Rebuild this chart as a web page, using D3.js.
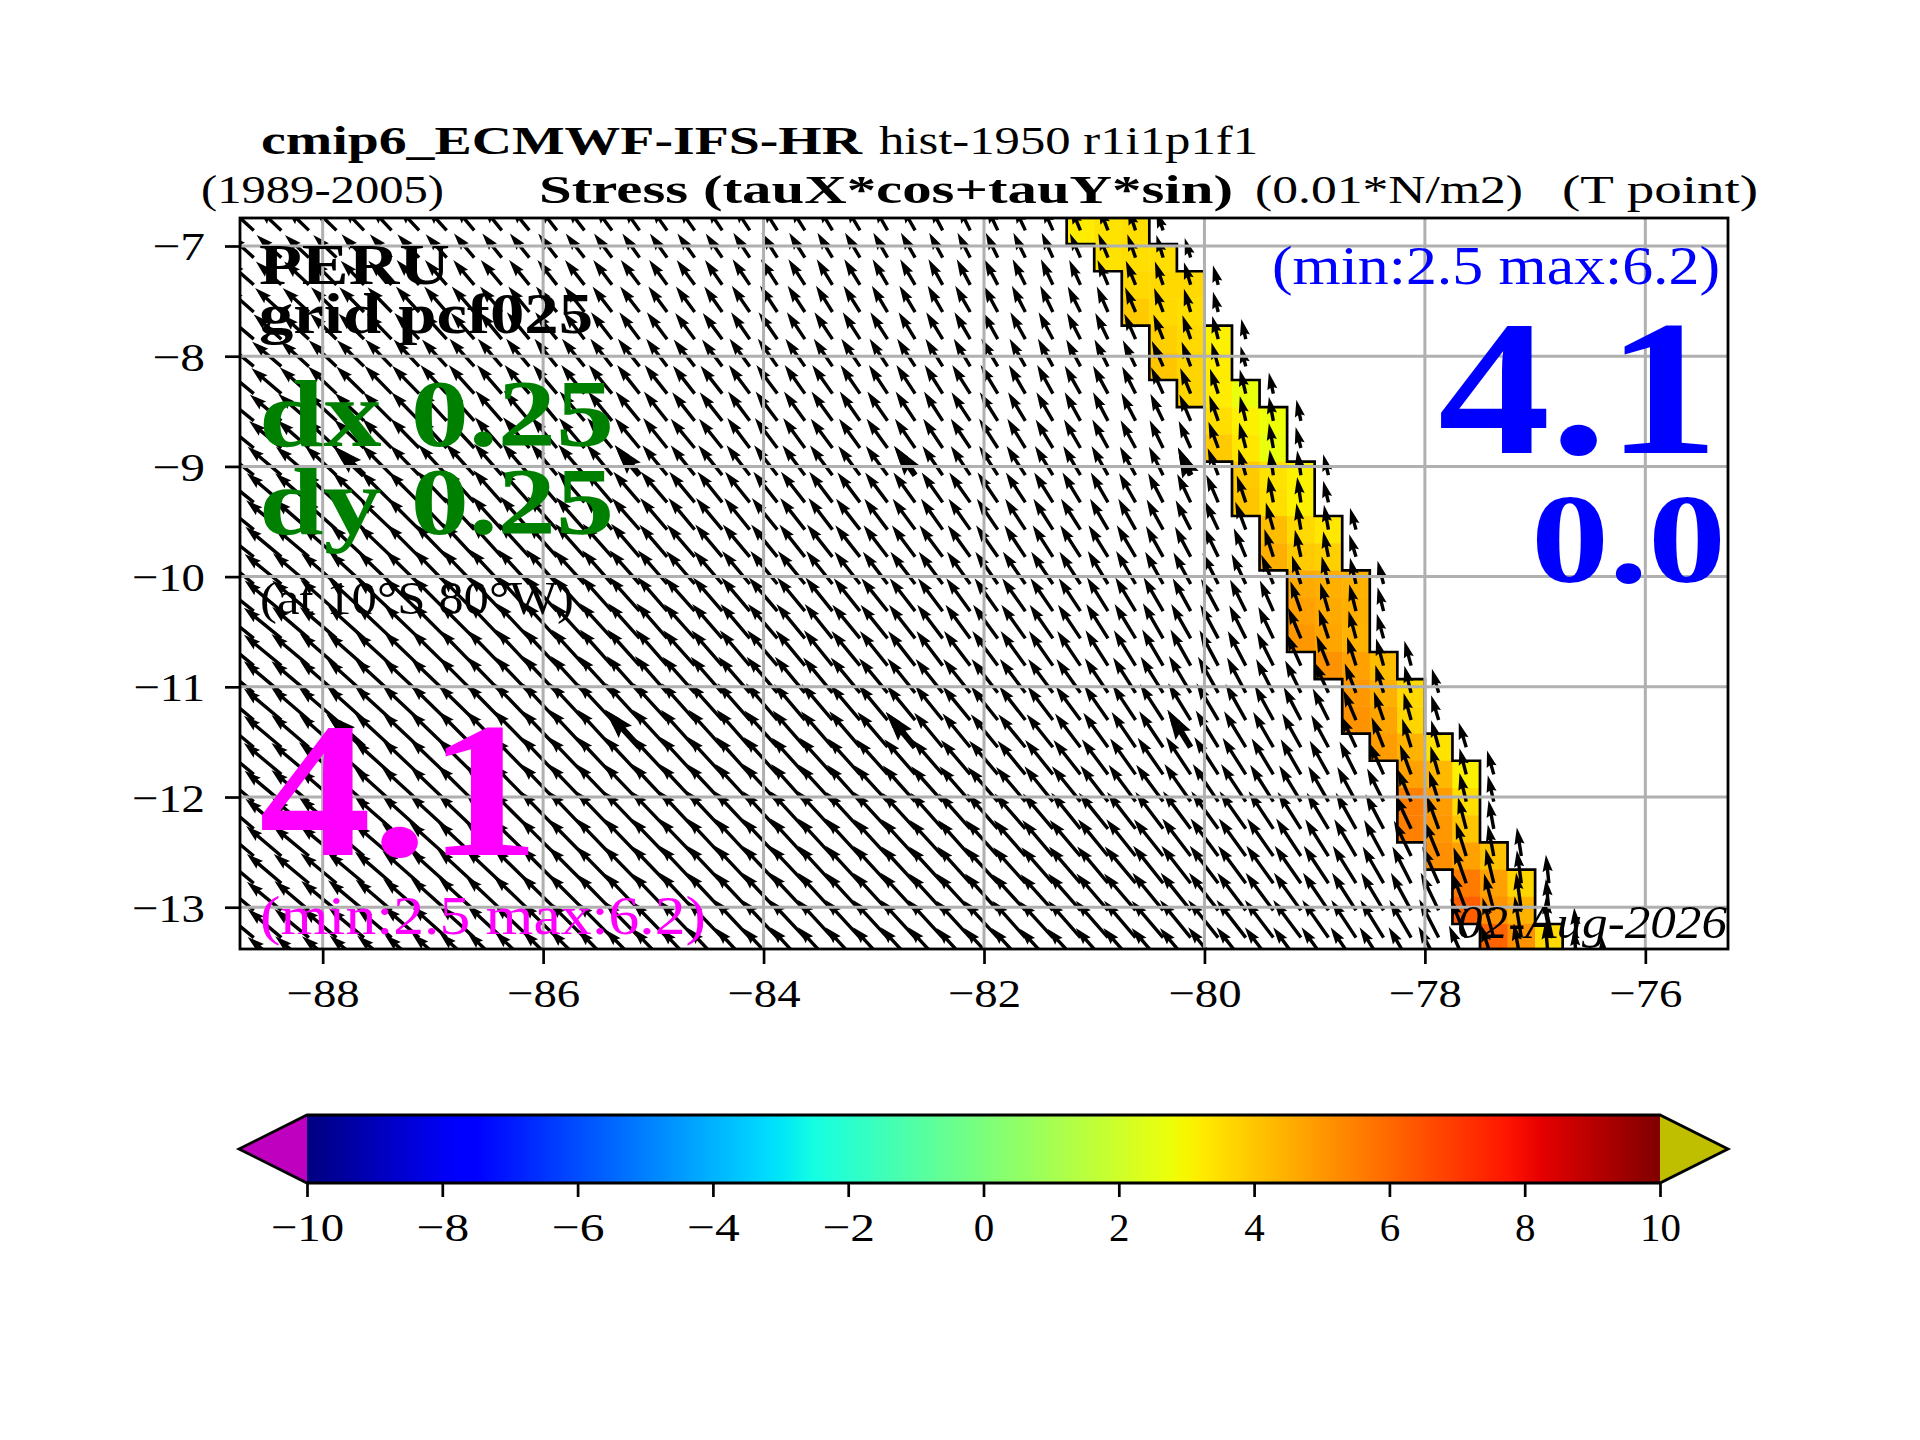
<!DOCTYPE html>
<html><head><meta charset="utf-8">
<script src="https://cdn.jsdelivr.net/npm/d3@7"></script>
<style>html,body{margin:0;padding:0;background:#fff}svg{display:block}text{font-family:"Liberation Serif",serif}</style>
</head><body><div id="chart"></div>
<script>
// ---- data ----
const xTicks=[-88,-86,-84,-82,-80,-78,-76];
const yTicks=[-13,-12,-11,-10,-9,-8,-7];
const cbTicks=[-10,-8,-6,-4,-2,0,2,4,6,8,10];
// latitude of the row edges of the model grid
const latEdges=[-6.735,-6.982,-7.229,-7.476,-7.722,-7.969,-8.216,-8.463,-8.710,-8.956,-9.203,-9.450,-9.697,-9.944,-10.190,-10.437,-10.684,-10.931,-11.178,-11.425,-11.671,-11.918,-12.165,-12.412,-12.659,-12.905,-13.152,-13.399,-13.646];
// western longitude of the coloured strip, per row
const stripLon=[-81.25,-81,-80.75,-80.75,-80.5,-80.5,-80.25,-80,-80,-79.75,-79.75,-79.5,-79.5,-79.25,-79.25,-79.25,-79,-78.75,-78.75,-78.5,-78.25,-78.25,-78.25,-78,-77.75,-77.75,-77.5];
// stress values of the three strip cells, per row
const stripVal=[[3.2,3.4,3.5],[3.4,3.5,3.5],[3.6,3.6,3.6],[3.9,3.6,3.5],[3.8,3.6,3.1],[4.0,3.7,3.2],[3.7,3.2,2.7],[3.5,3.1,2.8],[3.9,3.3,2.7],[3.9,3.4,3.1],[4.0,3.5,3.1],[4.2,3.6,3.3],[4.5,3.9,3.8],[4.6,4.5,4.4],[4.8,4.6,4.5],[5.0,4.7,4.4],[5.1,4.8,4.2],[5.0,4.5,3.6],[5.1,4.7,3.7],[4.9,4.4,3.4],[4.8,4.3,3.1],[5.5,4.9,3.5],[5.5,5.0,4.0],[5.2,4.8,4.1],[5.6,4.8,3.7],[6.2,5.1,4.4],[6.1,5.1,3.6]];
// arrow components (0.001 N/m2), per row from north to south, per column from west to east
const tauU=[
[-32,-31,-30,-30,-29,-28,-28,-27,-26,-25,-25,-24,-24,-23,-22,-22,-22,-21,-21,-20,-20,-19,-19,-18,-18,-17,-16,-15,-15,-14,-13,-12,-10,-9],
[-33,-33,-32,-31,-30,-29,-29,-28,-27,-26,-26,-25,-25,-24,-23,-23,-23,-22,-22,-21,-21,-20,-20,-19,-19,-18,-17,-16,-16,-15,-14,-13,-11,-9,-8],
[-35,-34,-33,-32,-31,-31,-30,-29,-28,-28,-27,-26,-26,-25,-25,-24,-24,-23,-23,-22,-22,-21,-21,-20,-20,-19,-18,-18,-17,-16,-15,-14,-13,-11,-9,-7],
[-36,-35,-35,-34,-33,-32,-31,-30,-30,-29,-28,-28,-27,-26,-26,-25,-25,-24,-24,-23,-23,-22,-22,-21,-21,-20,-20,-19,-18,-17,-17,-15,-14,-12,-9,-7],
[-38,-37,-36,-35,-34,-33,-33,-32,-31,-30,-30,-29,-28,-28,-27,-27,-26,-26,-25,-25,-24,-24,-23,-23,-22,-22,-21,-20,-20,-19,-18,-17,-15,-13,-11,-8,-6],
[-40,-39,-38,-37,-36,-35,-34,-33,-33,-32,-31,-30,-30,-29,-29,-28,-28,-27,-27,-26,-26,-25,-25,-24,-24,-23,-22,-22,-21,-20,-19,-18,-17,-15,-12,-9,-7],
[-41,-40,-39,-38,-37,-36,-36,-35,-34,-33,-33,-32,-31,-31,-30,-30,-29,-29,-28,-28,-27,-27,-26,-25,-25,-24,-24,-23,-22,-21,-21,-20,-18,-16,-14,-11,-8,-6],
[-43,-42,-41,-40,-39,-38,-37,-36,-35,-35,-34,-33,-33,-32,-32,-31,-30,-30,-29,-29,-28,-28,-27,-27,-26,-25,-25,-24,-23,-22,-21,-20,-19,-17,-15,-12,-8,-6,-6],
[-44,-43,-42,-41,-40,-39,-38,-37,-37,-36,-35,-34,-34,-33,-33,-32,-32,-31,-30,-30,-29,-29,-28,-28,-27,-26,-26,-25,-24,-23,-22,-21,-20,-18,-16,-13,-9,-6,-7],
[-46,-45,-44,-42,-41,-40,-39,-38,-38,-37,-36,-35,-35,-34,-33,-33,-32,-32,-31,-31,-30,-30,-29,-29,-28,-27,-26,-25,-25,-24,-23,-22,-21,-19,-17,-14,-10,-5,-5,-7],
[-47,-46,-45,-44,-42,-41,-41,-40,-39,-38,-38,-37,-36,-36,-35,-35,-34,-33,-33,-32,-32,-31,-30,-30,-29,-28,-28,-27,-26,-25,-24,-23,-22,-20,-18,-16,-12,-7,-5,-7],
[-48,-47,-46,-45,-44,-43,-42,-41,-41,-40,-39,-39,-38,-37,-37,-36,-35,-35,-34,-34,-33,-32,-32,-31,-30,-29,-29,-28,-27,-26,-26,-24,-23,-22,-20,-18,-14,-10,-6,-6,-8],
[-49,-48,-47,-46,-45,-44,-43,-43,-42,-41,-41,-40,-39,-39,-38,-37,-37,-36,-36,-35,-34,-34,-33,-32,-31,-31,-30,-29,-28,-27,-27,-26,-25,-23,-21,-19,-16,-12,-8,-7,-9],
[-49,-49,-48,-47,-46,-45,-45,-44,-43,-43,-42,-41,-41,-40,-40,-39,-38,-38,-37,-36,-36,-35,-34,-33,-33,-32,-31,-30,-30,-29,-28,-27,-26,-24,-23,-21,-19,-16,-12,-9,-8,-8],
[-50,-49,-49,-48,-47,-46,-46,-45,-45,-44,-43,-43,-42,-41,-41,-40,-40,-39,-38,-38,-37,-36,-35,-35,-34,-33,-32,-31,-31,-30,-29,-28,-27,-26,-24,-23,-21,-18,-14,-11,-9,-8],
[-50,-50,-49,-49,-48,-47,-47,-46,-46,-45,-44,-44,-43,-43,-42,-41,-41,-40,-39,-39,-38,-37,-37,-36,-35,-34,-33,-33,-32,-31,-30,-29,-28,-27,-26,-24,-22,-20,-17,-13,-10,-9],
[-50,-50,-50,-49,-49,-48,-47,-47,-46,-46,-45,-45,-44,-43,-43,-42,-42,-41,-40,-40,-39,-38,-38,-37,-36,-35,-35,-34,-33,-32,-31,-30,-29,-28,-27,-25,-24,-22,-19,-16,-12,-10,-9],
[-50,-50,-50,-49,-49,-49,-48,-48,-47,-47,-46,-46,-45,-45,-44,-43,-43,-42,-42,-41,-40,-39,-39,-38,-37,-36,-36,-35,-34,-33,-32,-31,-30,-30,-29,-27,-25,-23,-21,-19,-15,-11,-9,-9],
[-50,-50,-50,-50,-49,-49,-49,-48,-48,-47,-47,-46,-46,-46,-45,-45,-44,-44,-43,-42,-41,-41,-40,-39,-38,-37,-37,-36,-35,-34,-33,-32,-31,-31,-30,-29,-27,-25,-23,-21,-17,-13,-10,-10],
[-50,-50,-50,-50,-50,-49,-49,-49,-48,-48,-48,-47,-47,-46,-46,-46,-45,-45,-44,-44,-43,-42,-41,-40,-39,-38,-37,-36,-36,-35,-34,-33,-32,-32,-31,-30,-29,-27,-25,-23,-20,-16,-12,-10,-10],
[-49,-50,-50,-50,-50,-50,-49,-49,-49,-49,-48,-48,-48,-47,-47,-47,-46,-46,-45,-45,-44,-44,-43,-42,-41,-40,-39,-38,-37,-37,-36,-35,-34,-34,-33,-32,-31,-29,-27,-25,-22,-19,-15,-11,-9,-9],
[-48,-49,-50,-50,-50,-50,-50,-49,-49,-49,-49,-48,-48,-48,-48,-47,-47,-47,-46,-46,-45,-45,-44,-44,-43,-42,-41,-40,-39,-38,-38,-37,-36,-36,-35,-34,-33,-31,-29,-27,-25,-22,-18,-13,-9,-8],
[-47,-48,-49,-50,-50,-50,-50,-50,-49,-49,-49,-49,-48,-48,-48,-48,-47,-47,-47,-46,-46,-46,-45,-45,-44,-43,-42,-41,-41,-40,-39,-39,-38,-37,-37,-36,-35,-33,-31,-29,-27,-24,-21,-16,-11,-7],
[-46,-47,-48,-49,-49,-50,-50,-50,-49,-49,-49,-49,-48,-48,-48,-48,-48,-47,-47,-47,-46,-46,-46,-45,-45,-44,-43,-43,-42,-41,-41,-40,-39,-39,-38,-37,-36,-35,-33,-31,-29,-26,-23,-19,-14,-8,-6],
[-46,-46,-47,-48,-49,-49,-49,-49,-49,-49,-48,-48,-48,-48,-48,-48,-47,-47,-47,-47,-47,-46,-46,-46,-45,-45,-44,-44,-43,-42,-42,-41,-41,-40,-39,-38,-37,-36,-35,-33,-31,-28,-25,-22,-17,-11,-6,-4],
[-45,-46,-46,-47,-48,-48,-48,-48,-48,-48,-48,-48,-48,-47,-47,-47,-47,-47,-47,-47,-47,-46,-46,-46,-46,-45,-45,-44,-44,-43,-43,-42,-42,-41,-40,-39,-38,-37,-36,-34,-32,-30,-27,-24,-19,-13,-7,-4],
[-45,-45,-46,-46,-47,-47,-47,-47,-47,-47,-47,-47,-47,-47,-47,-47,-47,-47,-47,-47,-47,-46,-46,-46,-46,-46,-45,-45,-44,-44,-43,-43,-42,-42,-41,-40,-39,-38,-37,-35,-33,-31,-29,-26,-21,-15,-9,-4,-3],
[-45,-45,-45,-46,-46,-46,-46,-46,-46,-46,-46,-46,-46,-46,-46,-46,-46,-46,-46,-46,-46,-46,-46,-46,-46,-46,-45,-45,-45,-44,-44,-43,-43,-42,-41,-40,-39,-38,-37,-36,-34,-32,-30,-27,-23,-17,-10,-5,-3,-3]];
const tauV=[
[29,29,29,29,30,30,30,30,31,31,31,31,31,31,31,31,31,31,32,32,32,32,32,32,32,32,32,32,32,32,31,31,30,26],
[30,30,30,30,31,31,31,31,32,32,32,32,32,32,32,32,32,32,33,33,33,33,33,33,33,33,33,33,33,33,32,32,31,30,26],
[31,31,31,32,32,32,33,33,33,33,33,33,33,33,33,33,33,33,34,34,34,34,34,34,34,34,34,34,34,34,33,33,32,31,30,26],
[32,32,32,33,33,33,34,34,34,34,34,34,34,34,34,34,34,34,35,35,35,35,35,35,35,35,35,35,35,35,34,34,33,32,31,27],
[32,33,33,34,34,34,35,35,35,36,36,36,36,36,36,36,35,35,36,36,36,36,36,36,36,36,36,36,36,36,35,35,34,33,32,31,27],
[33,33,34,35,35,36,36,36,37,37,37,37,37,37,37,37,36,36,37,37,37,37,37,37,37,37,37,37,37,37,36,36,35,34,33,32,27],
[34,34,35,36,36,37,37,38,38,38,38,38,38,38,38,38,37,37,38,38,38,38,38,38,38,38,38,38,38,38,37,37,36,35,34,33,32,28],
[35,35,36,37,37,38,38,39,39,40,40,40,39,39,39,39,38,38,39,39,39,39,39,39,39,39,38,38,38,38,38,38,37,36,35,34,33,32,28],
[36,36,37,38,38,39,39,40,40,41,41,41,40,40,40,40,39,39,40,40,40,39,39,39,39,39,39,39,39,38,38,38,37,37,36,35,34,33,28],
[37,38,38,39,39,40,40,41,42,42,42,42,41,41,40,40,40,40,40,40,40,40,39,39,39,39,39,39,39,39,39,39,38,38,37,36,35,34,33,28],
[38,39,39,40,40,41,41,42,43,43,43,43,42,42,41,41,41,41,41,41,41,41,40,40,40,40,40,40,40,40,40,40,39,39,38,37,36,35,34,29],
[39,39,40,40,41,41,42,43,44,44,44,44,43,43,42,42,42,42,42,42,42,42,41,41,41,41,41,41,41,41,41,41,41,40,39,38,37,36,35,33,29],
[39,40,40,41,42,42,43,44,45,45,45,45,44,44,44,43,43,43,43,43,43,43,42,42,42,42,42,42,42,42,42,42,42,41,40,39,38,37,36,34,30],
[40,40,41,41,42,43,44,45,45,46,46,46,45,45,45,45,44,44,44,44,44,44,43,43,43,43,43,43,43,43,43,44,44,43,42,41,40,39,38,37,35,31],
[40,41,41,42,43,43,44,45,46,46,47,47,46,46,46,46,45,45,45,45,45,45,44,44,44,44,44,44,44,44,44,45,45,45,44,43,42,41,40,38,36,32],
[41,41,42,42,43,44,45,46,46,47,47,48,47,47,47,47,46,46,46,46,46,46,45,45,45,45,45,45,45,45,45,46,46,47,46,45,44,42,41,39,37,33],
[41,41,42,43,43,44,45,46,47,47,48,48,48,48,48,48,47,47,47,47,47,47,46,46,46,46,46,46,46,46,46,47,47,48,48,47,46,44,42,40,38,36,33],
[41,42,42,43,44,45,45,46,47,48,48,49,49,49,49,49,48,48,48,48,48,47,47,46,46,45,45,45,45,45,45,46,47,48,49,48,47,45,43,41,39,37,36,32],
[42,42,43,43,44,45,46,47,47,48,49,49,49,49,49,49,49,49,49,49,48,48,47,47,46,46,45,45,45,45,45,46,47,48,49,49,48,46,44,42,40,38,36,33],
[42,42,43,44,44,45,46,47,48,48,49,49,50,50,50,50,50,50,50,49,49,48,48,47,47,46,45,44,44,44,45,46,47,48,50,49,48,47,45,43,42,40,38,36,33],
[41,42,42,43,44,45,46,47,48,49,49,50,50,50,50,50,50,50,50,50,49,49,48,47,47,46,46,45,45,46,46,47,48,49,50,50,49,48,47,45,44,42,40,38,35,32],
[40,41,42,43,44,45,46,47,48,49,50,50,50,50,50,50,50,50,50,50,50,49,49,48,48,47,47,46,46,47,47,48,49,49,50,50,50,49,48,47,46,44,43,41,38,35],
[40,40,41,42,43,44,45,46,47,48,49,50,50,50,50,50,50,50,50,50,50,50,49,49,48,48,47,47,47,47,48,48,49,49,50,50,50,50,49,48,48,46,45,44,42,38],
[39,40,40,41,42,43,44,45,46,47,48,49,49,50,50,50,50,50,50,50,50,50,50,49,49,48,48,48,48,48,48,49,49,49,50,50,50,50,50,49,49,48,47,46,45,42,38],
[38,39,39,40,41,42,43,44,45,46,47,48,48,49,49,50,50,50,50,50,50,50,50,50,49,49,49,48,48,48,49,49,49,50,50,50,50,50,50,50,50,49,49,49,48,46,44,38],
[38,38,39,39,40,41,42,43,44,45,46,47,48,48,49,49,50,50,50,50,50,50,50,50,50,49,49,49,48,48,49,49,49,50,50,50,50,50,50,50,50,50,50,50,50,49,50,42],
[37,38,38,39,39,40,41,42,43,44,45,46,47,47,48,48,49,49,50,50,50,50,50,50,50,50,49,49,49,48,49,49,49,49,50,50,50,50,50,50,50,50,50,51,52,53,55,54,40],
[37,37,38,38,39,39,40,41,42,43,44,45,46,47,47,48,48,49,49,49,50,50,50,50,50,50,49,49,49,48,48,49,49,49,49,50,50,50,50,50,50,50,50,51,52,53,55,57,48,38]];
// arrows drawn again with a heavy shaft and head: [row, column]
const heavyArrows=[[9,4],[9,14],[9,24],[9,34],[19,4],[19,14],[19,24],[19,34]];
const cellSize=0.25, firstLon=-88.75;

// ---- layout ----
const W=1920,H=1440;
const svg=d3.select("#chart").append("svg").attr("width",W).attr("height",H).attr("viewBox",`0 0 ${W} ${H}`);
const axL=240,axR=1728,axT=218,axB=949;
const x=d3.scaleLinear().domain([-88.75,-75.25]).range([axL,axR]);
const y=d3.scaleLinear().domain([-13.379,-6.746]).range([axB,axT]);
const arrowPx=d3.scaleLinear().domain([0,100]).range([0,75]);

// matplotlib "jet"
const jr=d3.scaleLinear().domain([0,.35,.66,.89,1]).range([0,0,1,1,.5]).clamp(true);
const jg=d3.scaleLinear().domain([0,.125,.375,.64,.91,1]).range([0,0,1,1,0,0]).clamp(true);
const jb=d3.scaleLinear().domain([0,.11,.34,.65,1]).range([.5,1,1,0,0]).clamp(true);
const norm=d3.scaleLinear().domain([-10,10]).range([0,1]);
const jet=v=>{const t=norm(v);return d3.rgb(jr(t)*255,jg(t)*255,jb(t)*255).formatHex();};

const defs=svg.append("defs");
defs.append("clipPath").attr("id","ax").append("rect")
  .attr("x",axL).attr("y",axT).attr("width",axR-axL).attr("height",axB-axT);
const plot=svg.append("g").attr("clip-path","url(#ax)");

// coloured strip
const cells=[];
stripVal.forEach((vals,r)=>vals.forEach((v,i)=>{
  const lon=stripLon[r]+i*cellSize;
  cells.push({r,lon,v});
}));
plot.append("g").selectAll("rect").data(cells).join("rect")
  .attr("x",d=>x(d.lon)).attr("width",d=>x(d.lon+cellSize)-x(d.lon)+.4)
  .attr("y",d=>y(latEdges[d.r])).attr("height",d=>y(latEdges[d.r+1])-y(latEdges[d.r])+.4)
  .attr("fill",d=>jet(d.v));
// outline of the strip
const has=(r,lon)=>r>=0&&r<stripLon.length&&lon>=stripLon[r]-1e-6&&lon<stripLon[r]+3*cellSize-1e-6;
const seg=[];
cells.forEach(d=>{
  const x0=x(d.lon),x1=x(d.lon+cellSize),y0=y(latEdges[d.r]),y1=y(latEdges[d.r+1]);
  if(!has(d.r,d.lon-cellSize))seg.push([x0,y0,x0,y1]);
  if(!has(d.r,d.lon+cellSize))seg.push([x1,y0,x1,y1]);
  if(!has(d.r-1,d.lon))seg.push([x0,y0,x1,y0]);
  if(!has(d.r+1,d.lon))seg.push([x0,y1,x1,y1]);
});
plot.append("path").attr("fill","none").attr("stroke","#000").attr("stroke-width",2.7).attr("stroke-linecap","square")
  .attr("d",seg.map(s=>`M${s[0]},${s[1]}L${s[2]},${s[3]}`).join(""));

// quiver
function arrowPath(x0,y0,dx,dy,w){
  const L=Math.hypot(dx,dy);if(!L)return "";
  const ux=dx/L,uy=dy/L,nx=-uy,ny=ux;
  const pts=[[0,w/2],[L-4.5*w,w/2],[L-5*w,1.5*w],[L,0],[L-5*w,-1.5*w],[L-4.5*w,-w/2],[0,-w/2]];
  return "M"+pts.map(p=>[(x0+ux*p[0]+nx*p[1]).toFixed(2),(y0+uy*p[0]+ny*p[1]).toFixed(2)].join(",")).join("L")+"Z";
}
const arrows=[];
tauU.forEach((row,r)=>row.forEach((u,c)=>{
  arrows.push({r,c,u,v:tauV[r][c]});
}));
const cx=d=>x(firstLon+(d.c+.5)*cellSize);
const cy=d=>y((latEdges[d.r]+latEdges[d.r+1])/2);
plot.append("g").selectAll("path").data(arrows.filter(d=>d.v!==undefined)).join("path")
  .attr("d",d=>arrowPath(cx(d),cy(d),arrowPx(d.u),-arrowPx(d.v),3.4)).attr("fill","#000");
plot.append("g").selectAll("path").data(heavyArrows.map(([r,c])=>({r,c,u:tauU[r][c],v:tauV[r][c]}))).join("path")
  .attr("d",d=>arrowPath(cx(d),cy(d),arrowPx(d.u),-arrowPx(d.v),6)).attr("fill","#000");

// grid
const grid=plot.append("g").attr("stroke","#b0b0b0").attr("stroke-width",3);
grid.selectAll(".gx").data(xTicks).join("line").attr("x1",d=>x(d)).attr("x2",d=>x(d)).attr("y1",axT).attr("y2",axB);
grid.selectAll(".gy").data(yTicks).join("line").attr("y1",d=>y(d)).attr("y2",d=>y(d)).attr("x1",axL).attr("x2",axR);

// axes
function styleAxis(g){
  g.select(".domain").remove();
  g.selectAll(".tick line").attr("stroke","#000").attr("stroke-width",2.7);
  g.selectAll("text").attr("font-size",41).attr("fill","#000").attr("font-family","Liberation Serif")
    .each(function(){
      // the long minus of the reference's math font
      if(this.textContent.startsWith("\u2212")){
        d3.select(this).attr("textLength",this.getComputedTextLength()+9).attr("lengthAdjust","spacingAndGlyphs");
      }
    });
}
const gx=svg.append("g").attr("transform",`translate(0,${axB})`)
  .call(d3.axisBottom(x).tickValues(xTicks).tickSize(15).tickFormat(d3.format("d"))).call(styleAxis);
gx.selectAll("text").attr("y",58).attr("dy",0);
const gy=svg.append("g").attr("transform",`translate(${axL},0)`)
  .call(d3.axisLeft(y).tickValues(yTicks).tickSize(15).tickFormat(d3.format("d"))).call(styleAxis);
gy.selectAll("text").attr("x",-35).attr("dy",14);
svg.append("rect").attr("x",axL).attr("y",axT).attr("width",axR-axL).attr("height",axB-axT)
  .attr("fill","none").attr("stroke","#000").attr("stroke-width",2.8);

// colorbar
const cb=d3.scaleLinear().domain([-10,10]).range([307,1660]);
const cbT=1115,cbB=1183,cbTipL=239,cbTipR=1728;
const grad=defs.append("linearGradient").attr("id","jet").attr("gradientUnits","userSpaceOnUse")
  .attr("x1",cb(-10)).attr("x2",cb(10)).attr("y1",0).attr("y2",0);
grad.selectAll("stop").data(d3.range(-10,10.01,0.25)).join("stop")
  .attr("offset",d=>norm(d)).attr("stop-color",d=>jet(d));
svg.append("rect").attr("x",cb(-10)).attr("width",cb(10)-cb(-10)).attr("y",cbT).attr("height",cbB-cbT).attr("fill","url(#jet)");
const cbMid=(cbT+cbB)/2;
svg.append("path").attr("d",`M${cb(-10)},${cbT}L${cbTipL},${cbMid}L${cb(-10)},${cbB}Z`).attr("fill","#bf00bf");
svg.append("path").attr("d",`M${cb(10)},${cbT}L${cbTipR},${cbMid}L${cb(10)},${cbB}Z`).attr("fill","#bfbf00");
svg.append("path").attr("fill","none").attr("stroke","#000").attr("stroke-width",2.8)
  .attr("d",`M${cb(-10)},${cbT}L${cb(10)},${cbT}L${cbTipR},${cbMid}L${cb(10)},${cbB}L${cb(-10)},${cbB}L${cbTipL},${cbMid}Z`);
const gc=svg.append("g").attr("transform",`translate(0,${cbB})`)
  .call(d3.axisBottom(cb).tickValues(cbTicks).tickSize(14).tickFormat(d3.format("d"))).call(styleAxis);
gc.selectAll("text").attr("y",58).attr("dy",0);

// texts: [string, left, width, baseline, size, weight, style, colour]
const labels=[
 ["cmip6_ECMWF-IFS-HR",261,601,154,41,"bold","normal","#000"],
 ["hist-1950 r1i1p1f1",879,379,154,41,"normal","normal","#000"],
 ["(1989-2005)",201,243,203,41,"normal","normal","#000"],
 ["Stress (tauX*cos+tauY*sin)",539,694,203,41,"bold","normal","#000"],
 ["(0.01*N/m2)",1255,268,203,41,"normal","normal","#000"],
 ["(T point)",1562,196,203,41,"normal","normal","#000"],
 ["PERU",259,191,284,58,"bold","normal","#000"],
 ["grid pcf025",259,334,333,58,"bold","normal","#000"],
 ["dx 0.25",259,355,446,96,"bold","normal","#008000"],
 ["dy 0.25",259,355,534,96,"bold","normal","#008000"],
 ["(at 10°S 80°W)",260,314,614,47,"normal","normal","#000"],
 ["4.1",259,281,855,192,"bold","normal","#ff00ff"],
 ["(min:2.5 max:6.2)",260,446,934,55,"normal","normal","#ff00ff"],
 ["(min:2.5 max:6.2)",1272,448,284,55,"normal","normal","#0000ff"],
 ["4.1",1438,281,453,192,"bold","normal","#0000ff"],
 ["0.0",1531,195,582,126,"bold","normal","#0000ff"],
 ["02-Aug-2026",1457,270,938,47,"normal","italic","#000"]
];
svg.append("g").selectAll("text").data(labels).join("text")
  .attr("x",d=>d[1]).attr("y",d=>d[3]).attr("textLength",d=>d[2]).attr("lengthAdjust","spacingAndGlyphs")
  .attr("font-size",d=>d[4]).attr("font-weight",d=>d[5]).attr("font-style",d=>d[6]).attr("fill",d=>d[7])
  .text(d=>d[0]);
</script></body></html>
